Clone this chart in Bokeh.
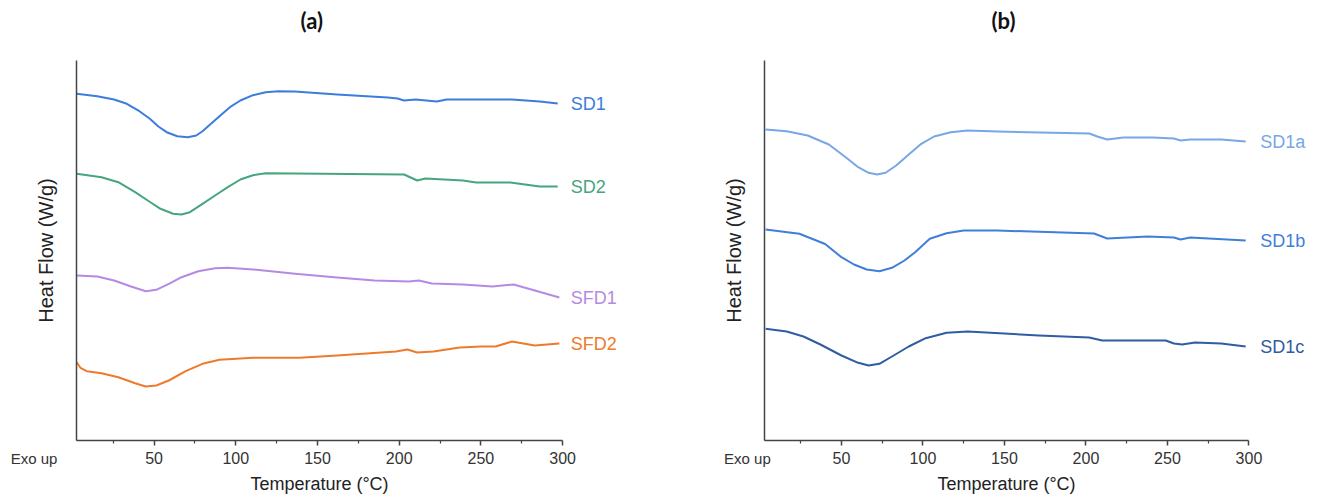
from bokeh.plotting import figure
from bokeh.layouts import row
from bokeh.models import Range1d, FixedTicker
from bokeh.core.properties import value
from bokeh.embed import file_html
from bokeh.resources import INLINE

# ---------- data: panel (a) ----------
sd1_t = [2.6, 15.2, 25.5, 33.3, 41, 47.4, 52.6, 57.7, 64.2, 70.6, 75.8, 79.6, 84.8, 90, 96.4, 102.8, 110.5, 118.3, 126,
         136, 162, 193, 199, 203, 210, 223, 229, 269, 286, 297]
sd1_v = [346.7, 344.3, 341, 336.7, 329.3, 321.7, 314, 308.3, 304.3, 303.3, 305, 309.3, 316.7, 324.3, 333.3, 340, 345.3, 348.3, 349.3,
         349, 346, 343, 342, 340, 341, 339, 341, 341, 339, 337]

sd2_t = [2.6, 17.8, 28.1, 38.4, 46.1, 53.9, 61.6, 66.8, 71.9, 79.6, 87.3, 95.1, 102.8, 110.5, 118.3,
         136, 203, 211, 216, 239, 247, 268, 286, 297]
sd2_v = [266.7, 263.3, 258.3, 248.3, 240, 231.7, 226.7, 226, 228.3, 236.7, 245, 253.3, 261, 265.3, 267.3,
         267, 266, 260, 262, 260, 258, 258, 254, 254]

sfd1_t = [2.6, 15.2, 25.5, 35.9, 44.9, 51.3, 59, 66.8, 77, 87.3, 95.1, 110.5, 136.3,
          162, 185, 206, 212, 220, 239, 257, 270, 283, 298]
sfd1_v = [165, 164, 160, 154, 149.3, 150.7, 156.7, 163.3, 169.3, 172.3, 172.7, 171, 166.7,
          163, 160, 159, 160, 157, 156, 154, 156, 150, 143]

sfd2_t = [2.6, 4.9, 8.8, 17.8, 28.1, 38.4, 44.9, 51.3, 59, 69.3, 79.6, 90, 110.5, 138.9,
          162, 198, 205, 211, 221, 237, 250, 259, 269, 283, 298]
sfd2_v = [78.3, 72.7, 69.3, 67.3, 63.3, 57.3, 54, 55, 60, 69.3, 76.7, 80.7, 82.7, 82.7,
          85, 89, 91, 88, 89, 93, 94, 94, 99, 95, 97]

# ---------- data: panel (b) ----------
sd1a_t = [3.5, 16.4, 29.3, 42.3, 52.6, 60.3, 66.7, 71.9, 77.1, 83.6, 91.3, 99, 106.8, 117.1, 127.4,
          146, 202, 207, 213, 223, 241, 254, 258, 264, 283, 298]
sd1a_v = [311, 309.3, 305, 296, 283.3, 273.3, 267.7, 266, 267.7, 275, 286, 296.7, 304, 308.3, 310,
          309, 307, 304, 301, 303, 303, 302, 300, 301, 301, 299]

sd1b_t = [3.5, 24.2, 40, 50, 57.7, 65.5, 73.3, 81, 88.7, 95.2, 104.2, 114.5, 125, 145.5,
          205, 213, 238, 254, 258, 264, 298]
sd1b_v = [211, 206.7, 196.5, 183.3, 176, 171, 169.3, 172.7, 180, 188.3, 201.7, 207.3, 210, 210,
          207, 202, 204, 203, 201, 203, 200]

sd1c_t = [3.5, 16.4, 26.7, 37.1, 50, 60.3, 66.7, 73.3, 81, 91.3, 101.7, 114.5, 127.4,
          171, 202, 210, 223, 249, 254, 259, 267, 283, 298]
sd1c_v = [111.7, 109, 104, 96, 85, 77.7, 75, 76.7, 84, 94, 102.3, 107.7, 109,
          105, 103, 100, 100, 100, 97, 96, 98, 97, 94]

x_ticks = [50, 100, 150, 200, 250, 300]
x_minor = [25, 75, 125, 175, 225, 275]
y_extent = (0, 380)

FONT = "Liberation Sans"
W, H = 656, 495


def make_panel(title, title_offset, series, x0, x_start, x_end, label_x, exo_x):
    p = figure(width=W, height=H, output_backend="svg", toolbar_location=None,
               x_range=Range1d(x_start, x_end), y_range=Range1d(440 - H, 407),
               min_border_left=0, min_border_right=0,
               min_border_top=33, min_border_bottom=0,
               title=title)
    p.title.align = "left"
    p.title.offset = title_offset
    p.title.text_font = "Lato"
    p.title.text_font_size = "22px"
    p.title.text_font_style = "bold"
    p.title.text_color = "#111111"
    p.title.standoff = 0
    p.outline_line_color = None
    p.grid.grid_line_color = None

    xa = p.xaxis[0]
    xa.fixed_location = y_extent[0]
    xa.bounds = (x0, 300)
    xa.ticker = FixedTicker(ticks=x_ticks, minor_ticks=x_minor)
    xa.axis_line_color = "#444444"
    xa.axis_line_width = 1.5
    xa.major_tick_line_color = "#444444"
    xa.minor_tick_line_color = "#444444"
    xa.major_tick_line_width = 1.5
    xa.minor_tick_line_width = 1.2
    xa.major_tick_in = 0
    xa.major_tick_out = 5
    xa.minor_tick_in = 0
    xa.minor_tick_out = 3
    xa.major_label_text_font = FONT
    xa.major_label_text_font_size = "16px"
    xa.major_label_text_color = "#333333"
    xa.major_label_standoff = 6
    xa.axis_label = "Temperature (°C)"
    xa.axis_label_text_font = FONT
    xa.axis_label_text_font_size = "18px"
    xa.axis_label_text_font_style = "normal"
    xa.axis_label_text_color = "#222222"
    xa.axis_label_standoff = 7

    ya = p.yaxis[0]
    ya.fixed_location = x0
    ya.bounds = y_extent
    ya.ticker = FixedTicker(ticks=[])
    ya.axis_line_color = "#444444"
    ya.axis_line_width = 1.5
    ya.major_tick_line_color = None
    ya.minor_tick_line_color = None
    ya.major_label_text_font_size = "0px"
    ya.axis_label = "Heat Flow (W/g)"
    ya.axis_label_text_font = FONT
    ya.axis_label_text_font_size = "20px"
    ya.axis_label_text_font_style = "normal"
    ya.axis_label_text_color = "#222222"
    ya.axis_label_standoff = 20

    for name, t, v, color in series:
        p.line(t, v, line_color=color, line_width=2, line_join="round")
        p.text(x=[label_x], y=[v[-1]], text=[name], text_color=color,
               text_font=value(FONT), text_font_size="18px",
               text_baseline="middle", text_align="left")

    p.text(x=[exo_x], y=[-18], text=["Exo up"], text_color="#333333",
           text_font=value(FONT), text_font_size="15px",
           text_baseline="middle", text_align="center")
    return p


# panel (a): 1.634 px per degree, axis origin (2.5 degC) at 76 px
left = make_panel("(a)", 300, [
    ("SD1", sd1_t, sd1_v, "#3c7ddb"),
    ("SD2", sd2_t, sd2_v, "#47a57e"),
    ("SFD1", sfd1_t, sfd1_v, "#b58ae2"),
    ("SFD2", sfd2_t, sfd2_v, "#ee7a2c"),
], 2.5, 2.5 - 76 / 1.634, 2.5 + (W - 76) / 1.634, 305, 2.5 - 26)

# panel (b): 1.63 px per degree, axis origin (2.8 degC) at 108 px of the figure
right = make_panel("(b)", 335, [
    ("SD1a", sd1a_t, sd1a_v, "#78a6e6"),
    ("SD1b", sd1b_t, sd1b_v, "#3f7fd9"),
    ("SD1c", sd1c_t, sd1c_v, "#2f5ca2"),
], 2.8, 2.8 - 108 / 1.63, 2.8 + (W - 108) / 1.63, 307, 2.8 - 10.5)

layout = row(left, right)
open("out.html", "w").write(file_html(layout, INLINE))
